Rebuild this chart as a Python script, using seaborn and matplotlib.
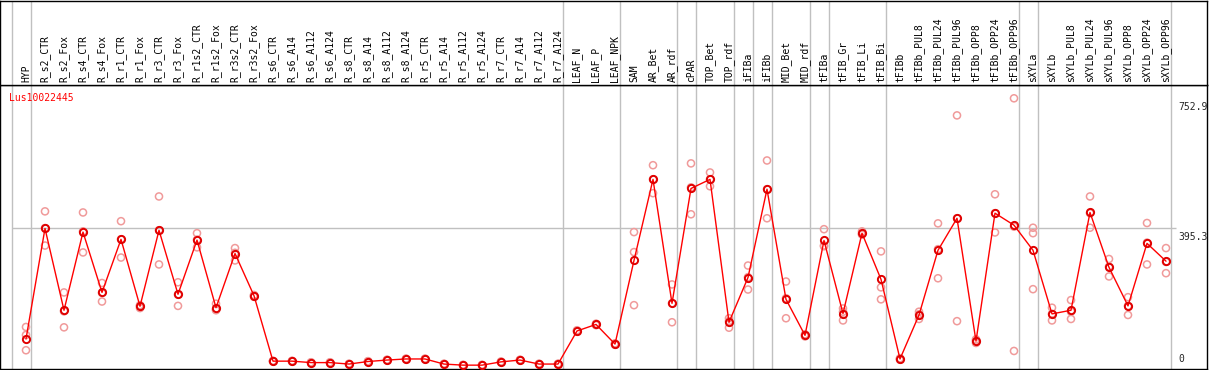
import numpy as np
import pandas as pd
import matplotlib
matplotlib.use("Agg")
import matplotlib.pyplot as plt
import seaborn as sns

GENE = "Lus10022445"

samples = [
    "HYP",
    "R_s2_CTR", "R_s2_Fox", "R_s4_CTR", "R_s4_Fox", "R_r1_CTR", "R_r1_Fox",
    "R_r3_CTR", "R_r3_Fox", "R_r1s2_CTR", "R_r1s2_Fox", "R_r3s2_CTR", "R_r3s2_Fox",
    "R_s6_CTR", "R_s6_A14", "R_s6_A112", "R_s6_A124", "R_s8_CTR", "R_s8_A14",
    "R_s8_A112", "R_s8_A124", "R_r5_CTR", "R_r5_A14", "R_r5_A112", "R_r5_A124",
    "R_r7_CTR", "R_r7_A14", "R_r7_A112", "R_r7_A124",
    "LEAF_N", "LEAF_P", "LEAF_NPK",
    "SAM", "AR_Bet", "AR_rdf", "cPAR", "TOP_Bet", "TOP_rdf", "iFIBa", "iFIBb",
    "MID_Bet", "MID_rdf", "tFIBa", "tFIB_Gr", "tFIB_Li", "tFIB_Bi",
    "tFIBb", "tFIBb_PUL8", "tFIBb_PUL24", "tFIBb_PUL96", "tFIBb_OPP8",
    "tFIBb_OPP24", "tFIBb_OPP96",
    "sXYLa", "sXYLb", "sXYLb_PUL8", "sXYLb_PUL24", "sXYLb_PUL96", "sXYLb_OPP8",
    "sXYLb_OPP24", "sXYLb_OPP96",
]

mean_expr = [
    91, 395, 170, 385, 219, 365, 181, 390, 214, 363, 177, 326, 210,
    30, 30, 26, 26, 22, 29, 33, 36, 36, 22, 19, 19, 28, 33, 22, 22,
    113, 131, 77,
    307, 530, 189, 505, 530, 137, 260, 503, 200, 101, 362, 161, 382, 255,
    36, 157, 335, 423, 85, 437, 404,
    335, 160, 170, 439, 288, 182, 354, 305,
]

rep1 = [
    124, 442, 219, 439, 245, 415, 184, 483, 247, 382, 188, 341, 212,
    31, 31, 27, 27, 23, 30, 34, 37, 37, 23, 20, 20, 29, 34, 23, 23,
    115, 133, 79,
    385, 569, 241, 574, 549, 148, 293, 582, 249, 104, 393, 175, 387, 332,
    38, 166, 409, 706, 90, 489, 753,
    397, 177, 198, 483, 311, 206, 410, 341,
]
rep2 = [
    60, 348, 123, 329, 194, 315, 176, 296, 182, 343, 170, 307, 207,
    29, 29, 25, 25, 21, 28, 32, 35, 35, 21, 18, 18, 27, 32, 21, 21,
    111, 129, 75,
    184, 492, 137, 434, 511, 122, 227, 423, 148, 98, 346, 142, 378, 200,
    34, 146, 258, 140, 80, 384, 58,
    228, 142, 146, 397, 263, 157, 296, 272,
]
rep3 = [
    102, 396, 167, 387, 218, 365, 181, 390, 213, 364, 173, 328, 210,
    30, 30, 26, 26, 22, 29, 33, 36, 36, 22, 19, 19, 28, 33, 22, 22,
    113, 131, 77,
    330, 530, 189, 508, 530, 140, 261, 503, 203, 101, 348, 166, 381, 233,
    36, 159, 338, 423, 86, 437, 400,
    382, 160, 166, 437, 290, 182, 356, 303,
]

# group separators (drawn just after these sample indices)
separators = [-1, 0, 28, 31, 34, 35, 37, 38, 39, 41, 42, 45, 52, 53, 60]
y_ticks = [752.9, 395.3]

idx = np.arange(len(samples))
df = pd.DataFrame({"idx": idx, "mean": mean_expr})
reps = pd.DataFrame({
    "idx": np.concatenate([idx, idx, idx]),
    "value": np.concatenate([rep1, rep2, rep3]),
})

sns.set_style("white")
plt.rcParams["font.family"] = ["DejaVu Sans Mono"]

W, H = 1209, 370
fig = plt.figure(figsize=(W / 100, H / 100), dpi=100)
ax = fig.add_axes([0, 1 / H, 1207 / W, 284 / H])
hdr = fig.add_axes([0, 285 / H, 1207 / W, 84.5 / H], sharex=ax)

xmin, xmax = -26 / 19, (1207 - 26) / 19
ax.set_xlim(xmin, xmax)
ax.set_ylim(8.4, 789.6)
hdr.set_ylim(0, 1)

gray = "#c0c0c0"
for s in separators:
    ax.axvline(s + 0.247, color=gray, lw=1, zorder=0)
    hdr.axvline(s + 0.247, color=gray, lw=1, zorder=0)
ax.hlines(395.3, -1 + 0.247, 60.55, color=gray, lw=1, zorder=0)

sns.scatterplot(data=reps, x="idx", y="value", ax=ax, marker="o", s=26,
                facecolor="none", edgecolor="#f09a9a", linewidth=1.1,
                clip_on=False, zorder=2, legend=False)
sns.lineplot(data=df, x="idx", y="mean", ax=ax, color="#ff0000", lw=1,
             marker="o", markersize=5.2, markerfacecolor="none",
             markeredgecolor="#e00000", markeredgewidth=1.4,
             clip_on=False, zorder=3)

for i, name in enumerate(samples):
    hdr.text(i, 0.03, name, rotation=90, ha="center", va="bottom",
             fontsize=7, color="black")

ax.text(9 / 1207, 1 - 8 / 284, GENE, transform=ax.transAxes, color="#ff0000",
        fontsize=7, ha="left", va="top")
for t in y_ticks:
    ax.text(60.65, t - 9, f"{t:.1f}", fontsize=7, ha="left", va="top")
ax.text(60.65, 22, "0", fontsize=7, ha="left", va="bottom")

for a in (ax, hdr):
    a.set_xticks([])
    a.set_yticks([])
    a.set_xlabel("")
    a.set_ylabel("")
    for sp in a.spines.values():
        sp.set_visible(True)
        sp.set_color("black")
        sp.set_linewidth(1)

fig.savefig("out.png", dpi=100)
